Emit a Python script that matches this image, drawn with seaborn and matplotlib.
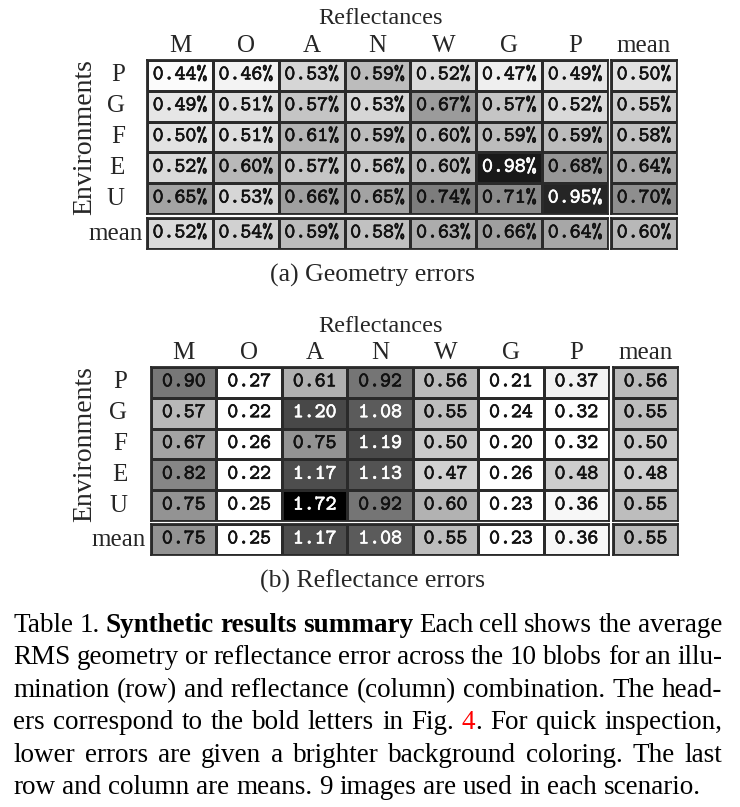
import numpy as np
import pandas as pd
import matplotlib
matplotlib.use("Agg")
import matplotlib.pyplot as plt
import matplotlib.patheffects as pe
import seaborn as sns
from matplotlib.colors import Normalize, PowerNorm

# %%
# данные таблицы
rows = ["P", "G", "F", "E", "U"]
cols = ["M", "O", "A", "N", "W", "G", "P"]

geom_vals = [
    [0.44, 0.46, 0.53, 0.59, 0.52, 0.47, 0.49],
    [0.49, 0.51, 0.57, 0.53, 0.67, 0.57, 0.52],
    [0.50, 0.51, 0.61, 0.59, 0.60, 0.59, 0.59],
    [0.52, 0.60, 0.57, 0.56, 0.60, 0.98, 0.68],
    [0.65, 0.53, 0.66, 0.65, 0.74, 0.71, 0.95],
]
geom_row_mean = [0.50, 0.55, 0.58, 0.64, 0.70]
geom_col_mean = [0.52, 0.54, 0.59, 0.58, 0.63, 0.66, 0.64]
geom_all_mean = 0.60

refl_vals = [
    [0.90, 0.27, 0.61, 0.92, 0.56, 0.21, 0.37],
    [0.57, 0.22, 1.20, 1.08, 0.55, 0.24, 0.32],
    [0.67, 0.26, 0.75, 1.19, 0.50, 0.20, 0.32],
    [0.82, 0.22, 1.17, 1.13, 0.47, 0.26, 0.48],
    [0.75, 0.25, 1.72, 0.92, 0.60, 0.23, 0.36],
]
refl_row_mean = [0.56, 0.55, 0.50, 0.48, 0.55]
refl_col_mean = [0.75, 0.25, 1.17, 1.08, 0.55, 0.23, 0.36]
refl_all_mean = 0.55

caption_lines = [
    "Table 1. *Synthetic *results *summary Each cell shows the average",
    "RMS geometry or reflectance error across the 10 blobs for an illu-",
    "mination (row) and reflectance (column) combination.  The head-",
    "ers correspond to the bold letters in Fig. #4. For quick inspection,",
    "lower errors are given a brighter background coloring.  The last",
    "row and column are means. 9 images are used in each scenario.",
]

# %%
sns.set_theme(style="white")
plt.rcParams["font.family"] = ["Liberation Serif", "DejaVu Serif"]

W, H = 740, 807
fig = plt.figure(figsize=(W / 100, H / 100), dpi=100)

GRID = "#2a2a2a"
CELL_FONT = dict(family="cmtt10", size=15, weight="bold")
LABEL_SIZE = 18


def px_axes(x0, y0, x1, y1):
    return fig.add_axes([x0 / W, 1 - y1 / H, (x1 - x0) / W, (y1 - y0) / H])


def block(ax, data, fmt, norm, xlab, ylab):
    annot = [[fmt.format(v) for v in r] for r in data.values]
    sns.heatmap(data, ax=ax, cmap="gray_r", norm=norm, cbar=False,
                annot=np.array(annot), fmt="", annot_kws=CELL_FONT,
                linewidths=1.8, linecolor=GRID,
                xticklabels=xlab, yticklabels=ylab)
    for txt, v in zip(ax.texts, data.values.flatten()):
        c = "white" if norm(v) > 0.6 else "#111111"
        txt.set_color(c)
        txt.set_path_effects([pe.withStroke(linewidth=0.4, foreground=c)])
    for s in ax.spines.values():
        s.set_visible(True)
        s.set_linewidth(1.3)
        s.set_color(GRID)
    ax.set_xlabel("")
    ax.set_ylabel("")
    ax.xaxis.tick_top()
    ax.tick_params(length=0, labelsize=LABEL_SIZE)
    ax.tick_params(axis="x", pad=2)
    plt.setp(ax.get_xticklabels(), rotation=0)
    plt.setp(ax.get_yticklabels(), rotation=0)


def draw_table(vals, row_mean, col_mean, all_mean, fmt, norm,
               x0, x1, xm0, xm1, y0, y1, ym0, ym1, row_pad, mean_pad):
    df = pd.DataFrame(vals, index=rows, columns=cols)
    df_rm = pd.DataFrame({"mean": row_mean}, index=rows)
    df_cm = pd.DataFrame([col_mean], index=["mean"], columns=cols)
    df_all = pd.DataFrame([[all_mean]])

    ax = px_axes(x0, y0, x1, y1)
    block(ax, df, fmt, norm, cols, rows)
    ax.tick_params(axis="y", pad=row_pad)

    ax2 = px_axes(xm0, y0, xm1, y1)
    block(ax2, df_rm, fmt, norm, ["mean"], False)

    ax3 = px_axes(x0, ym0, x1, ym1)
    block(ax3, df_cm, fmt, norm, False, ["mean"])
    ax3.tick_params(axis="y", pad=mean_pad)

    ax4 = px_axes(xm0, ym0, xm1, ym1)
    block(ax4, df_all, fmt, norm, False, False)

    fig.text(381 / W, 1 - (y0 - 41) / H, "Reflectances", ha="center",
             va="center", fontsize=17.5)
    fig.text(85 / W, 1 - (y0 + y1) / 2 / H, "Environments", rotation=90,
             ha="center", va="center", fontsize=20)


# (a) ошибки геометрии
draw_table(geom_vals, geom_row_mean, geom_col_mean, geom_all_mean, "{:.2f}%",
           Normalize(vmin=0.43, vmax=1.04),
           147, 608, 611, 677, 60, 214, 218, 249, row_pad=16, mean_pad=3)
fig.text(372 / W, 1 - 275 / H, "(a) Geometry errors", ha="center",
         va="center", fontsize=18.5)

# (b) ошибки отражения
draw_table(refl_vals, refl_row_mean, refl_col_mean, refl_all_mean, "{:.2f}",
           PowerNorm(gamma=0.7, vmin=0.35, vmax=1.72, clip=True),
           151, 609, 613, 678, 367, 521, 524, 555, row_pad=17, mean_pad=4)
fig.text(372 / W, 1 - 581 / H, "(b) Reflectance errors", ha="center",
         va="center", fontsize=18.5)

# %%
# подпись с выравниванием по ширине
CAP_SIZE = 19.5
renderer = fig.canvas.get_renderer()


def width_of(s, **kw):
    t = fig.text(0, 0, s, fontsize=CAP_SIZE, **kw)
    w = t.get_window_extent(renderer=renderer).width
    t.remove()
    return w


def pieces_of(word):
    if word.startswith("*"):
        return [(word[1:], dict(fontweight="bold"))]
    if word.startswith("#"):
        return [(word[1], dict(color="red")), (word[2:], {})]
    return [(word, {})]


space = width_of("a a") - width_of("aa")
left, right = 13.5, 722
for i, line in enumerate(caption_lines):
    words = [pieces_of(w) for w in line.split()]
    widths = [[width_of(p, **kw) for p, kw in w] for w in words]
    total = sum(sum(w) for w in widths)
    if i < len(caption_lines) - 1:
        gap = (right - left - total) / (len(words) - 1)
    else:
        gap = space
    x = left
    base = 632 + 32.4 * i
    for w, ws in zip(words, widths):
        for (p, kw), pw in zip(w, ws):
            kw = dict(kw)
            kw.setdefault("color", "black")
            fig.text(x / W, 1 - base / H, p, fontsize=CAP_SIZE, ha="left",
                     va="baseline", **kw)
            x += pw
        x += gap

fig.savefig("out.png", dpi=100)
